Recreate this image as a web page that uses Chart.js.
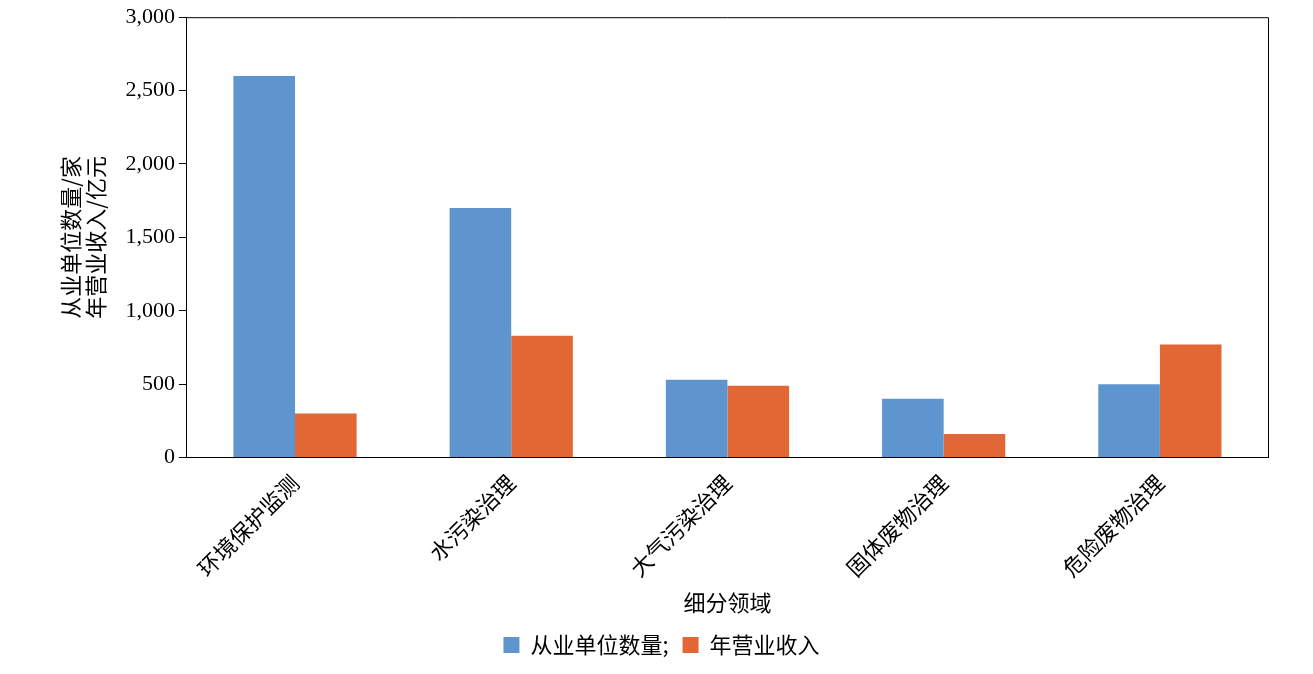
<!DOCTYPE html>
<html><head><meta charset="UTF-8">
<script src="https://cdn.jsdelivr.net/npm/chart.js@4/dist/chart.umd.min.js"></script>
<style>html,body{margin:0;padding:0;background:#fff}#wrap{width:1313px;height:674px}</style>
</head><body><div id="wrap"><canvas id="c"></canvas></div>
<script>
const categories=['环境保护监测','水污染治理','大气污染治理','固体废物治理','危险废物治理'];
const units=[2600,1700,530,400,500];
const revenue=[300,830,490,160,770];
const yTicks=[0,500,1000,1500,2000,2500,3000];
const cjk='"Noto Sans CJK SC", sans-serif';
const serif='"Liberation Serif", "DejaVu Serif", serif';
// right/top frame lines
const frame={id:'frame',afterDraw(ch){const a=ch.chartArea,x=ch.ctx;x.save();x.strokeStyle='#000';x.lineWidth=1;
  x.beginPath();x.moveTo(a.left,a.top+0.5);x.lineTo(a.right+0.5,a.top+0.5);x.lineTo(a.right+0.5,a.bottom);x.stroke();x.restore();}};
new Chart(document.getElementById('c'),{
  type:'bar',
  data:{labels:categories,datasets:[
    {label:'从业单位数量;',data:units,backgroundColor:'#5f95cf',categoryPercentage:0.57,barPercentage:1},
    {label:'年营业收入',data:revenue,backgroundColor:'#e36734',categoryPercentage:0.57,barPercentage:1}
  ]},
  options:{responsive:true,maintainAspectRatio:false,animation:false,
    layout:{padding:{left:55,right:45,top:14,bottom:8}},
    plugins:{legend:{position:'bottom',labels:{boxWidth:16,boxHeight:16,color:'#000',font:{family:cjk,size:22},padding:14}},tooltip:{enabled:false}},
    scales:{
      x:{grid:{display:false},border:{color:'#000'},
        ticks:{color:'#000',font:{family:cjk,size:22},minRotation:45,maxRotation:45,padding:4},
        title:{display:true,text:'细分领域',color:'#000',font:{family:cjk,size:22},padding:{top:4}}},
      y:{min:0,max:3000,afterBuildTicks:s=>{s.ticks=yTicks.map(v=>({value:v}));},
        grid:{drawOnChartArea:false,drawTicks:true,tickLength:8,color:'#000'},border:{color:'#000'},
        ticks:{color:'#000',font:{family:serif,size:22},padding:4},
        title:{display:true,text:['从业单位数量/家','年营业收入/亿元'],color:'#000',font:{family:cjk,size:22,lineHeight:1.1},padding:{bottom:14}}}
    }},
  plugins:[frame]
});
</script></body></html>
